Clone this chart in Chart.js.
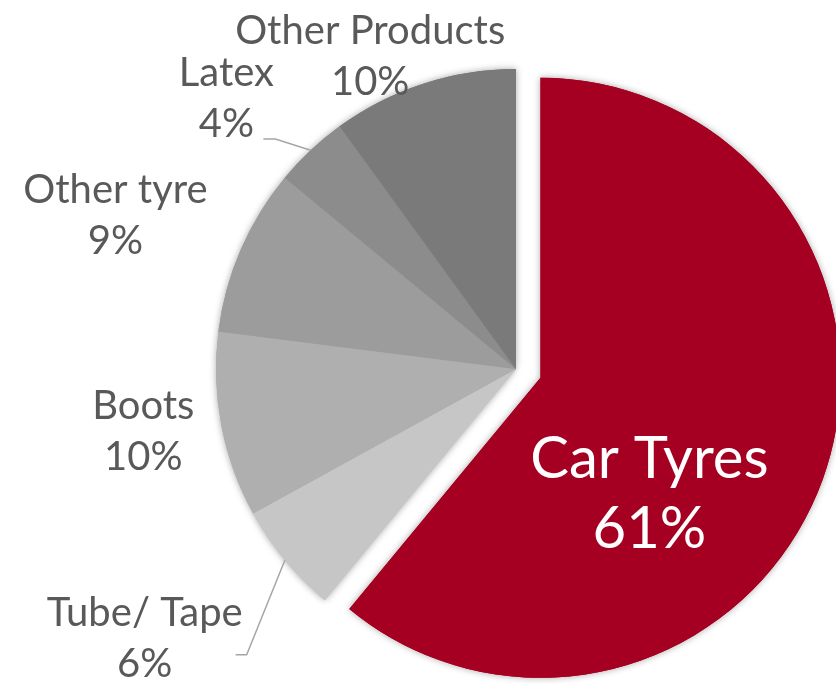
<!DOCTYPE html>
<html>
<head>
<meta charset="utf-8">
<script src="https://cdn.jsdelivr.net/npm/chart.js@4.4.1/dist/chart.umd.min.js"></script>
<style>
  body { margin: 0; background: #fff; }
  canvas { display: block; }
</style>
</head>
<body>
<canvas id="pie" width="836" height="684"></canvas>
<script>
// slice names and shares (%), clockwise from 12 o'clock
var categories = ['Car Tyres', 'Tube/ Tape', 'Boots', 'Other tyre', 'Latex', 'Other Products'];
var shares = [61, 6, 10, 9, 4, 10];
var sliceColors = ['#a50021', '#c6c6c6', '#afafaf', '#9c9c9c', '#8c8c8c', '#7a7a7a'];
var explodeIndex = 0;
var explodeDist = 26;

// label placement: distance as fraction of radius, angle nudge in degrees
var labelPlace = [
    { dist: 0.61, nudge: 23.4, color: '#ffffff', size: 58, lh: 70 },
    { dist: 1.53, nudge: 3.6, leader: [[102, 16], [91, 16]] },
    { dist: 1.26, nudge: 1.2 },
    { dist: 1.43, nudge: -2.4 },
    { dist: 1.32, nudge: -3.8, leader: [[49, 40], [37, 40]] },
    { dist: 1.15, nudge: -7 }
];

// pull one slice out of the pie along its bisector
var explode = {
    id: 'explode',
    afterUpdate: function (chart) {
        var arc = chart.getDatasetMeta(0).data[explodeIndex];
        if (!arc || arc._exploded) return;
        var orig = arc.draw;
        arc.draw = function (ctx) {
            var mid = (this.startAngle + this.endAngle) / 2;
            ctx.save();
            ctx.translate(Math.cos(mid) * explodeDist, Math.sin(mid) * explodeDist);
            orig.call(this, ctx);
            ctx.restore();
        };
        arc._exploded = true;
    }
};

var shadowPass = {
    id: 'shadowPass',
    beforeDatasetsDraw: function (chart) {
        var ctx = chart.ctx;
        ctx.save();
        ctx.shadowColor = 'rgba(0,0,0,0.35)';
        ctx.shadowBlur = 7;
        chart.getDatasetMeta(0).data.forEach(function (arc) { arc.draw(ctx); });
        ctx.restore();
    }
};

var pieLabels = {
    id: 'pieLabels',
    afterDatasetsDraw: function (chart) {
        var ctx = chart.ctx;
        var meta = chart.getDatasetMeta(0);
        ctx.save();
        ctx.textAlign = 'center';
        ctx.textBaseline = 'middle';
        meta.data.forEach(function (arc, i) {
            var p = arc.getProps(['x', 'y', 'startAngle', 'endAngle', 'outerRadius'], true);
            var mid = (p.startAngle + p.endAngle) / 2;
            var opt = labelPlace[i];
            var a = mid + opt.nudge * Math.PI / 180;
            var lx = p.x + Math.cos(a) * opt.dist * p.outerRadius;
            var ly = p.y + Math.sin(a) * opt.dist * p.outerRadius;
            var size = opt.size || 40;
            var lh = opt.lh || 51;
            ctx.font = size + 'px Lato';
            ctx.fillStyle = opt.color || '#595959';
            ctx.fillText(categories[i], lx, ly - lh / 2);
            ctx.fillText(shares[i] + '%', lx, ly + lh / 2);

            if (opt.leader) {
                var ex = p.x + Math.cos(mid) * p.outerRadius;
                var ey = p.y + Math.sin(mid) * p.outerRadius;
                ctx.beginPath();
                ctx.moveTo(ex, ey);
                ctx.lineTo(lx + opt.leader[0][0], ly + opt.leader[0][1]);
                ctx.lineTo(lx + opt.leader[1][0], ly + opt.leader[1][1]);
                ctx.strokeStyle = '#a6a6a6';
                ctx.lineWidth = 1.5;
                ctx.stroke();
            }
        });
        ctx.restore();
    }
};

var ctx = document.getElementById('pie').getContext('2d');
var chart = new Chart(ctx, {
    type: 'pie',
    data: {
        labels: categories,
        datasets: [{
            data: shares,
            backgroundColor: sliceColors,
            borderWidth: 0
        }]
    },
    options: {
        responsive: false,
        animation: false,
        events: [],
        radius: 300,
        layout: {
            padding: { left: 196, top: 54, right: 0, bottom: 0 }
        },
        plugins: {
            legend: { display: false },
            tooltip: { enabled: false }
        }
    },
    plugins: [explode, shadowPass, pieLabels]
});
</script>
</body>
</html>
